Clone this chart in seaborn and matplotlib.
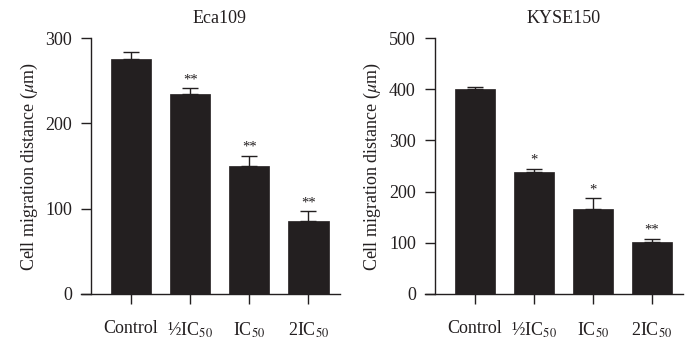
import matplotlib
matplotlib.use("Agg")
import matplotlib.pyplot as plt
import seaborn as sns
import pandas as pd
import numpy as np

categories = ["Control", "½IC$_{50}$", "IC$_{50}$", "2IC$_{50}$"]

eca_title = "Eca109"
eca_means = [276, 234, 150, 86]
eca_err = [8, 7, 12, 11]
eca_sig = ["", "**", "**", "**"]
eca_ticks = [0, 100, 200, 300]

kyse_title = "KYSE150"
kyse_means = [401, 238, 166, 101]
kyse_err = [3, 6, 21, 7]
kyse_sig = ["", "*", "*", "**"]
kyse_ticks = [0, 100, 200, 300, 400, 500]

sns.set_theme(style="ticks")
plt.rcParams["font.family"] = ["Liberation Serif", "DejaVu Serif"]
plt.rcParams["mathtext.fontset"] = "stix"
plt.rcParams["axes.linewidth"] = 1.0

bar_color = "#231f20"
fig = plt.figure(figsize=(6.85, 3.43), dpi=100)

panels = [
    (eca_title, eca_means, eca_err, eca_sig, eca_ticks, [0.118, 0.143, 0.378, 0.746]),
    (kyse_title, kyse_means, kyse_err, kyse_sig, kyse_ticks, [0.620, 0.143, 0.377, 0.746]),
]

for title, means, errs, sigs, ticks, rect in panels:
    ax = fig.add_axes(rect)
    df = pd.DataFrame({"group": categories, "value": means})
    sns.barplot(data=df, x="group", y="value", color=bar_color, width=0.68,
                errorbar=None, ax=ax, saturation=1, edgecolor=bar_color, linewidth=0.5)
    x = np.arange(len(categories))
    ax.errorbar(x, means, yerr=[np.zeros(len(errs)), errs], fmt="none",
                ecolor=bar_color, elinewidth=1.0, capsize=6, capthick=1.0, zorder=3)
    top = ticks[-1]
    for xi, m, e, s in zip(x, means, errs, sigs):
        if s:
            ax.text(xi, m + e + top * 0.008, s, ha="center", va="bottom",
                    fontsize=10.5, color=bar_color)
    ax.set_xlim(-0.85, 3.53)
    ax.set_ylim(0, top)
    ax.set_yticks(ticks)
    ax.spines["top"].set_visible(False)
    ax.spines["right"].set_visible(False)
    ax.spines["left"].set_position(("data", -0.67))
    for sp in ["left", "bottom"]:
        ax.spines[sp].set_color(bar_color)
    ax.tick_params(axis="both", direction="out", length=7, width=1.0,
                   colors=bar_color, labelsize=13)
    ax.tick_params(axis="y", pad=7)
    ax.tick_params(axis="x", pad=12)
    ax.set_xlabel("")
    ax.set_ylabel(r"Cell migration distance ($\mu$m)", fontsize=13, color=bar_color, labelpad=4)
    ax.text(1.5, top * 1.045, title, ha="center", va="bottom", fontsize=13, color=bar_color)

fig.savefig("out.png", dpi=100)
